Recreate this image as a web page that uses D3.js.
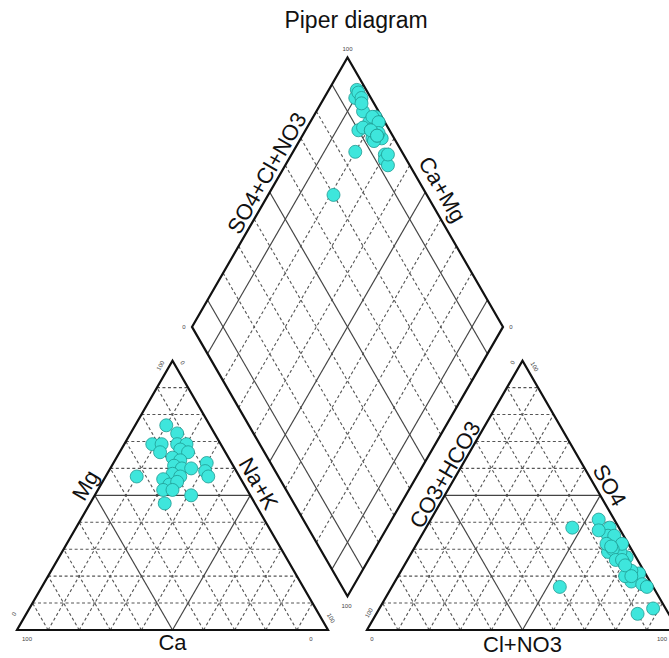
<!DOCTYPE html>
<html>
<head>
<meta charset="utf-8">
<script src="https://cdn.jsdelivr.net/npm/d3@7"></script>
<style>
    body { margin: 0; background: #fff; }
    svg { display: block; font-family: Arial, "Liberation Sans", sans-serif; }
</style>
</head>
<body>
<svg id="drawing_region"></svg>
<script>
// cations, % meq
const ca  = [22, 14, 33, 12, 19, 21, 14, 11, 14, 12, 18, 16, 19, 17, 14,  8, 10, 10, 21, 19, 25, 24, 21, 27, 19, 29, 24];
const mg  = [69, 76, 57, 73, 69, 66, 69, 69, 67, 66, 64, 63, 61, 60, 60, 62, 59, 57, 58, 57, 56, 54, 55, 52, 50, 47, 52];
const nak = [ 9, 10, 10, 15, 12, 13, 17, 20, 19, 22, 18, 21, 20, 23, 26, 30, 31, 33, 21, 24, 19, 22, 24, 21, 31, 24, 24];
// anions, % meq
const hco3 = [ 3,  5,  3,  5,  3,  4, 10,  2,  5,  2,  8,  6, 15,  7,  4,  6,  7,  7, 30,  7,  3,  2,  4,  6,  5,  5,  5];
const so4  = [38, 41, 27, 35, 35, 29,  6, 32, 25, 21, 29, 18, 38, 37, 22, 30, 32, 26, 16, 20, 17, 16,  8, 31, 26, 24, 20];
const cl   = [59, 54, 70, 60, 62, 67, 84, 66, 70, 77, 63, 76, 47, 56, 74, 64, 61, 67, 54, 73, 80, 82, 88, 63, 69, 71, 75];

const grid_ticks = d3.range(10, 100, 10);

const config = {
    parent: '#drawing_region',
    width: 669,
    height: 658,
    x0: 17,
    y0: 630,
    side: 311,
    gap: 39
};

const svg = d3.select(config.parent)
    .attr('width', config.width)
    .attr('height', config.height);

const L = config.side;
const sin60 = Math.sqrt(3) / 2;
const H = L * sin60;
const pct = d3.scaleLinear().domain([0, 100]).range([0, L]);

const lerp = (p, q, f) => [p[0] + (q[0] - p[0]) * f, p[1] + (q[1] - p[1]) * f];

// vertices
const cat = { a: [config.x0, config.y0], b: [config.x0 + L, config.y0], c: [config.x0 + L / 2, config.y0 - H] };
const rx0 = config.x0 + L + config.gap;
const an = { a: [rx0, config.y0], b: [rx0 + L, config.y0], c: [rx0 + L / 2, config.y0 - H] };
const bot = [config.x0 + L + config.gap / 2, config.y0 - config.gap / 2 * Math.sqrt(3)];
const dia = { bot: bot, left: [bot[0] - L / 2, bot[1] - H], right: [bot[0] + L / 2, bot[1] - H], top: [bot[0], bot[1] - 2 * H] };

const samples = ca.map((d, i) => {
    const ct = ca[i] + mg[i] + nak[i];
    const at = hco3[i] + so4[i] + cl[i];
    return {
        ca: 100 * ca[i] / ct, mg: 100 * mg[i] / ct, nak: 100 * nak[i] / ct,
        hco3: 100 * hco3[i] / at, so4: 100 * so4[i] / at, cl: 100 * cl[i] / at
    };
});

const grid = svg.append('g');

function line(p, q, cls) {
    grid.append('line')
        .attr('x1', p[0]).attr('y1', p[1])
        .attr('x2', q[0]).attr('y2', q[1])
        .attr('class', cls);
}

function triGrid(t) {
    grid_ticks.forEach(v => {
        const f = v / 100;
        const cls = v === 50 ? 'solid' : 'dash';
        line(lerp(t.a, t.c, f), lerp(t.b, t.c, f), cls);
        line(lerp(t.a, t.b, f), lerp(t.c, t.b, f), cls);
        line(lerp(t.b, t.a, f), lerp(t.c, t.a, f), cls);
    });
}

function diaGrid(d) {
    grid_ticks.forEach(v => {
        const f = v / 100;
        const cls = (v === 10 || v === 50 || v === 90) ? 'solid' : 'dash';
        line(lerp(d.bot, d.left, f), lerp(d.right, d.top, f), cls);
        line(lerp(d.bot, d.right, f), lerp(d.left, d.top, f), cls);
    });
}

triGrid(cat);
triGrid(an);
diaGrid(dia);

grid.selectAll('line.dash')
    .attr('stroke', '#555')
    .attr('stroke-width', 1.1)
    .attr('stroke-dasharray', '3,2.5');
grid.selectAll('line.solid')
    .attr('stroke', '#444')
    .attr('stroke-width', 1.2);

// outlines
const outline = [
    [cat.a, cat.b, cat.c],
    [an.a, an.b, an.c],
    [dia.bot, dia.right, dia.top, dia.left]
];
svg.append('g').selectAll('path')
    .data(outline)
    .join('path')
    .attr('d', d => d3.line()(d) + 'Z')
    .attr('fill', 'none')
    .attr('stroke', '#111')
    .attr('stroke-width', 2.2)
    .attr('stroke-linejoin', 'miter');

// points
const catXY = d => [cat.a[0] + pct(d.nak) + pct(d.mg) / 2, cat.a[1] - pct(d.mg) * sin60];
const anXY = d => [an.a[0] + pct(d.cl) + pct(d.so4) / 2, an.a[1] - pct(d.so4) * sin60];
const diaXY = d => {
    const a = pct(100 - d.nak), s = pct(100 - d.hco3);
    return [dia.bot[0] + (s - a) / 2, dia.bot[1] - (a + s) * sin60];
};

const pts = svg.append('g');
[catXY, anXY, diaXY].forEach(fn => {
    pts.append('g').selectAll('circle')
        .data(samples)
        .join('circle')
        .attr('cx', d => fn(d)[0])
        .attr('cy', d => fn(d)[1])
        .attr('r', 6.5)
        .attr('fill', '#3ee6dc')
        .attr('stroke', '#1f9a92')
        .attr('stroke-width', 0.8);
});

// axis titles: text, edge p->q, normal offset, shift along p->q, rotation
function edgeLabel(text, p, q, out, shift, rot) {
    const m = lerp(p, q, 0.5);
    const len = Math.hypot(q[0] - p[0], q[1] - p[1]);
    const t = [(q[0] - p[0]) / len, (q[1] - p[1]) / len];
    const n = [t[1], -t[0]];
    const x = m[0] + n[0] * out + t[0] * shift;
    const y = m[1] + n[1] * out + t[1] * shift;
    svg.append('text')
        .attr('x', x).attr('y', y)
        .attr('transform', `rotate(${rot}, ${x}, ${y})`)
        .attr('text-anchor', 'middle')
        .attr('dominant-baseline', 'central')
        .style('font-size', '22px')
        .style('fill', '#111')
        .text(text);
}

edgeLabel('Mg', cat.a, cat.c, 13, 4, -60);
edgeLabel('Na+K', cat.c, cat.b, 13, -6, 60);
edgeLabel('Ca', cat.b, cat.a, 12, 0, 0);
edgeLabel('CO3+HCO3', an.a, an.c, 10, 18, -60);
edgeLabel('SO4', an.c, an.b, 13, -4, 60);
edgeLabel('Cl+NO3', an.b, an.a, 14, 0, 0);
edgeLabel('SO4+Cl+NO3', dia.left, dia.top, 12, 15, -60);
edgeLabel('Ca+Mg', dia.top, dia.right, 16, 6, 60);

// small corner values
const corner = [
    ['100', cat.c[0] - 12, cat.c[1] + 5, -60],
    ['0', cat.c[0] + 10, cat.c[1] + 2, 60],
    ['0', cat.a[0] - 3, cat.a[1] - 16, -60],
    ['100', cat.a[0] + 10, cat.a[1] + 9, 0],
    ['100', cat.b[0] + 3, cat.b[1] - 12, 60],
    ['0', cat.b[0] - 17, cat.b[1] + 9, 0],
    ['0', an.c[0] - 10, an.c[1] + 2, -60],
    ['100', an.c[0] + 12, an.c[1] + 6, 60],
    ['100', an.a[0] + 2, an.a[1] - 17, -60],
    ['0', an.a[0] + 5, an.a[1] + 9, 0],
    ['100', config.width - 7, an.b[1] + 9, 0],
    ['100', dia.top[0], dia.top[1] - 9, 0],
    ['0', dia.left[0] - 8, dia.left[1], 0],
    ['0', dia.right[0] + 8, dia.right[1], 0],
    ['100', dia.bot[0] - 1, dia.bot[1] + 10, 0]
];
svg.append('g').selectAll('text')
    .data(corner)
    .join('text')
    .attr('x', d => d[1])
    .attr('y', d => d[2])
    .attr('transform', d => `rotate(${d[3]}, ${d[1]}, ${d[2]})`)
    .attr('text-anchor', 'middle')
    .attr('dominant-baseline', 'central')
    .style('font-size', '6px')
    .style('fill', '#444')
    .text(d => d[0]);

svg.append('text')
    .attr('x', 356)
    .attr('y', 20)
    .attr('text-anchor', 'middle')
    .attr('dominant-baseline', 'central')
    .style('font-size', '23px')
    .style('fill', '#111')
    .text('Piper diagram');
</script>
</body>
</html>
